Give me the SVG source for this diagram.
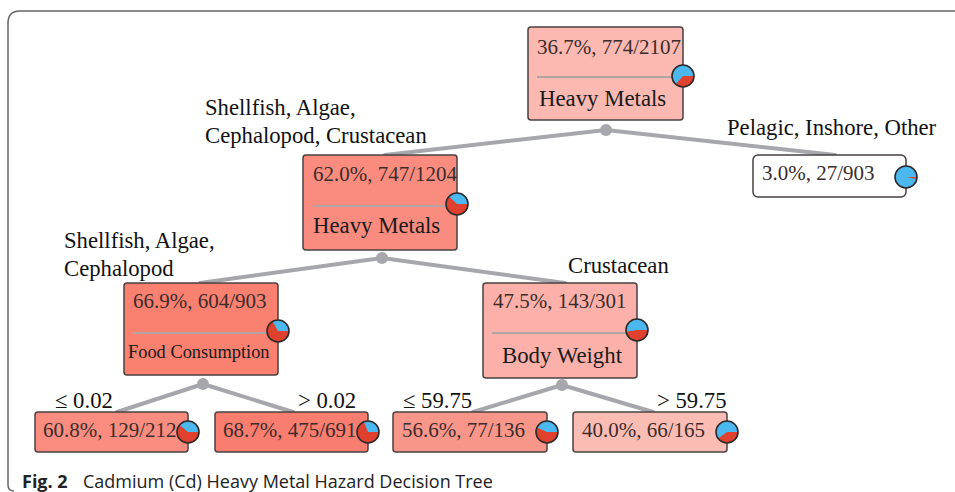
<svg xmlns="http://www.w3.org/2000/svg" width="955" height="492" viewBox="0 0 955 492">
  <style>
    .frame { fill: none; stroke: #666; stroke-width: 1.5; }
    .box { stroke: #4a4040; stroke-width: 1.5; }
    .sep { stroke: #b3a3a3; stroke-width: 2; }
    .edge { stroke: #a6a6ad; stroke-width: 4; stroke-linecap: round; fill: none; }
    .dot { fill: #a6a6ad; }
    .data { font-family: "Liberation Serif", "Times New Roman", serif; font-size: 21px; fill: #3d2c2c; }
    .attr { font-family: "Liberation Serif", "Times New Roman", serif; font-size: 22.8px; fill: #1a1a1a; }
    .attr-sm { font-family: "Liberation Serif", "Times New Roman", serif; font-size: 18.4px; fill: #1a1a1a; }
    .lbl { font-family: "Liberation Serif", "Times New Roman", serif; font-size: 22.7px; fill: #111; }
    .cap { font-family: "Open Sans", "Liberation Sans", sans-serif; font-size: 18px; fill: #222; }
    .pie-bg { fill: #4cb8f0; }
    .pie-red { fill: #e0402e; }
    .pie-rim { fill: none; stroke: #2e2a2a; stroke-width: 1.6; }
  </style>

  <!-- figure frame -->
  <path class="frame" d="M 14 491 Q 8 491 8 485 L 8 23 Q 8 11 20 11 L 955 11"/>

  <!-- connectors -->
  <g id="connectors">
    <line class="edge" x1="606" y1="130" x2="385" y2="155"/>
    <line class="edge" x1="606" y1="130" x2="835" y2="155"/>
    <line class="edge" x1="382" y1="258" x2="200" y2="283"/>
    <line class="edge" x1="382" y1="258" x2="565" y2="283"/>
    <line class="edge" x1="203" y1="384" x2="117" y2="412"/>
    <line class="edge" x1="203" y1="384" x2="293" y2="412"/>
    <line class="edge" x1="562" y1="385" x2="473" y2="412"/>
    <line class="edge" x1="562" y1="385" x2="653" y2="412"/>
    <circle class="dot" cx="606" cy="130" r="6"/>
    <circle class="dot" cx="382" cy="258" r="6"/>
    <circle class="dot" cx="203" cy="384" r="6"/>
    <circle class="dot" cx="562" cy="385" r="6"/>
  </g>

  <!-- branch labels -->
  <g id="branch-labels">
    <text class="lbl" x="205" y="115">Shellfish, Algae,</text>
    <text class="lbl" x="205" y="143">Cephalopod, Crustacean</text>
    <text class="lbl" x="727" y="135">Pelagic, Inshore, Other</text>
    <text class="lbl" x="64" y="248">Shellfish, Algae,</text>
    <text class="lbl" x="64" y="276">Cephalopod</text>
    <text class="lbl" x="568" y="273">Crustacean</text>
    <text class="lbl" x="55" y="408">≤ 0.02</text>
    <text class="lbl" x="298" y="408">&gt; 0.02</text>
    <text class="lbl" x="403" y="408">≤ 59.75</text>
    <text class="lbl" x="657" y="408">&gt; 59.75</text>
  </g>

  <!-- root -->
  <g id="node-root">
    <rect class="box" x="528" y="27" width="155" height="93" rx="3" fill="#fbb9b1"/>
    <text class="data" x="537" y="54">36.7%, 774/2107</text>
    <line class="sep" x1="537" y1="77" x2="683" y2="77"/>
    <text class="attr" x="539" y="106">Heavy Metals</text>
    <g transform="translate(683,76)">
      <circle class="pie-bg" r="11"/>
      <path class="pie-red" d="M0 0 L11 0 A11 11 0 0 1 -7.37 8.16 Z"/>
      <circle class="pie-rim" r="11"/>
    </g>
  </g>

  <!-- shellfish/algae/cephalopod/crustacean -->
  <g id="node-shellfish">
    <rect class="box" x="303" y="155" width="154" height="95" rx="3" fill="#fa8c7f"/>
    <text class="data" x="313" y="181">62.0%, 747/1204</text>
    <line class="sep" x1="313" y1="206" x2="457" y2="206"/>
    <text class="attr" x="313" y="233">Heavy Metals</text>
    <g transform="translate(457,204)">
      <circle class="pie-bg" r="11"/>
      <path class="pie-red" d="M0 0 L11 0 A11 11 0 1 1 -8.02 -7.53 Z"/>
      <circle class="pie-rim" r="11"/>
    </g>
  </g>

  <!-- pelagic/inshore/other leaf -->
  <g id="node-pelagic">
    <rect class="box" x="753" y="155" width="153" height="42" rx="5" fill="#ffffff"/>
    <text class="data" x="762" y="180">3.0%, 27/903</text>
    <g transform="translate(906,177)">
      <circle class="pie-bg" r="11"/>
      <path class="pie-red" d="M0 0 L11 0 A11 11 0 0 1 10.81 2.06 Z"/>
      <circle class="pie-rim" r="11"/>
    </g>
  </g>

  <!-- food consumption split -->
  <g id="node-food">
    <rect class="box" x="124" y="283" width="154" height="92" rx="3" fill="#fa8070"/>
    <text class="data" x="133" y="308">66.9%, 604/903</text>
    <line class="sep" x1="133" y1="333" x2="278" y2="333"/>
    <text class="attr-sm" x="128" y="358">Food Consumption</text>
    <g transform="translate(278,331)">
      <circle class="pie-bg" r="11"/>
      <path class="pie-red" d="M0 0 L11 0 A11 11 0 1 1 -5.36 -9.61 Z"/>
      <circle class="pie-rim" r="11"/>
    </g>
  </g>

  <!-- body weight split -->
  <g id="node-body">
    <rect class="box" x="483" y="283" width="154" height="95" rx="3" fill="#fbb1a9"/>
    <text class="data" x="493" y="308">47.5%, 143/301</text>
    <line class="sep" x1="492" y1="333" x2="637" y2="333"/>
    <text class="attr" x="502" y="363">Body Weight</text>
    <g transform="translate(637,330)">
      <circle class="pie-bg" r="11"/>
      <path class="pie-red" d="M0 0 L11 0 A11 11 0 0 1 -10.86 1.72 Z"/>
      <circle class="pie-rim" r="11"/>
    </g>
  </g>

  <!-- leaves -->
  <g id="leaf-food-low">
    <rect class="box" x="35" y="412" width="153" height="40" rx="3" fill="#fa8d80"/>
    <text class="data" x="43" y="437">60.8%, 129/212</text>
    <g transform="translate(188,432)">
      <circle class="pie-bg" r="11"/>
      <path class="pie-red" d="M0 0 L11 0 A11 11 0 1 1 -8.56 -6.91 Z"/>
      <circle class="pie-rim" r="11"/>
    </g>
  </g>

  <g id="leaf-food-high">
    <rect class="box" x="215" y="412" width="153" height="40" rx="3" fill="#f97e70"/>
    <text class="data" x="223" y="437">68.7%, 475/691</text>
    <g transform="translate(368,432)">
      <circle class="pie-bg" r="11"/>
      <path class="pie-red" d="M0 0 L11 0 A11 11 0 1 1 -4.24 -10.15 Z"/>
      <circle class="pie-rim" r="11"/>
    </g>
  </g>

  <g id="leaf-weight-low">
    <rect class="box" x="393" y="412" width="154" height="40" rx="3" fill="#f9968a"/>
    <text class="data" x="402" y="437">56.6%, 77/136</text>
    <g transform="translate(547,432)">
      <circle class="pie-bg" r="11"/>
      <path class="pie-red" d="M0 0 L11 0 A11 11 0 1 1 -10.07 -4.43 Z"/>
      <circle class="pie-rim" r="11"/>
    </g>
  </g>

  <g id="leaf-weight-high">
    <rect class="box" x="573" y="412" width="154" height="40" rx="3" fill="#fbbcb4"/>
    <text class="data" x="582" y="437">40.0%, 66/165</text>
    <g transform="translate(727,432)">
      <circle class="pie-bg" r="11"/>
      <path class="pie-red" d="M0 0 L11 0 A11 11 0 0 1 -8.90 6.47 Z"/>
      <circle class="pie-rim" r="11"/>
    </g>
  </g>

  <!-- caption -->
  <text class="cap" x="22" y="488"><tspan font-weight="bold">Fig. 2</tspan><tspan x="83">Cadmium (Cd) Heavy Metal Hazard Decision Tree</tspan></text>
</svg>
